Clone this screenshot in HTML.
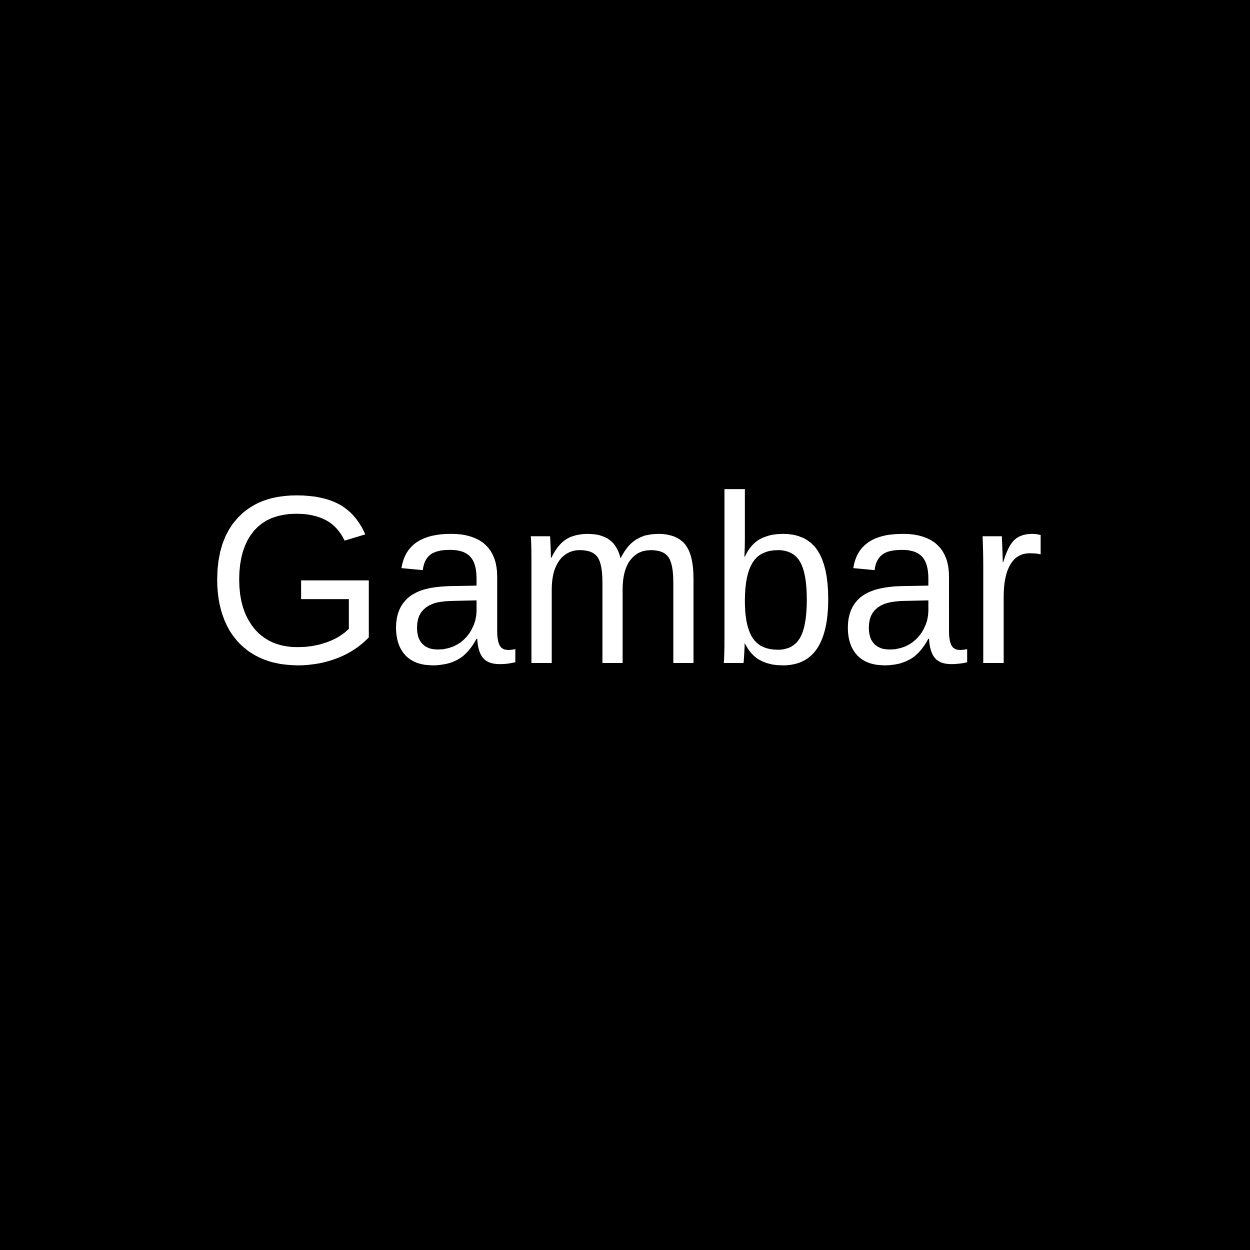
<!DOCTYPE html>
<html>
<head>
<meta charset="utf-8">
<style>
  html, body { margin: 0; padding: 0; background: #000; }
  body { width: 1250px; height: 1250px; overflow: hidden; }
  svg { display: block; }
</style>
</head>
<body>
<svg width="1250" height="1250" viewBox="0 0 1250 1250">
  <rect x="0" y="0" width="1250" height="1250" fill="#000"/>
  <text x="625" y="663" text-anchor="middle" fill="#fff"
        font-family="'Liberation Sans', 'DejaVu Sans', sans-serif" font-size="240"
        textLength="839" lengthAdjust="spacingAndGlyphs"
       >Gambar</text>
</svg>
</body>
</html>
